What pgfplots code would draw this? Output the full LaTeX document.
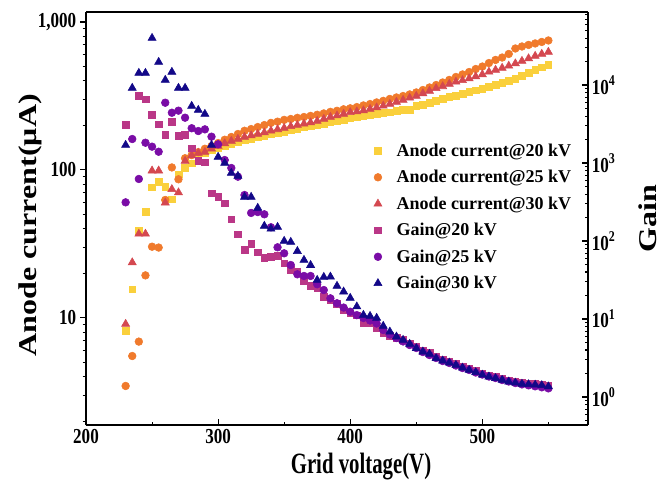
\documentclass[border=0pt]{standalone}
\usepackage{fontspec}
\setmainfont{Liberation Serif}
\usepackage{pgfplots}
\usepackage{pgfplotstable}
\pgfplotsset{compat=1.18}
\usetikzlibrary{calc}

\definecolor{cA20}{RGB}{250,208,60}
\definecolor{cA25}{RGB}{240,122,44}
\definecolor{cA30}{RGB}{212,72,80}
\definecolor{cG20}{RGB}{186,55,135}
\definecolor{cG25}{RGB}{122,12,166}
\definecolor{cG30}{RGB}{18,8,136}

% grid voltage, anode current (uA) and gain at 20/25/30 kV
\pgfplotstableread{
V   a20   a25   a30   g20    g25   g30
230 8.2   3.47  9.1   3070   313   1700
235 15.6  5.53  23.7  nan    2030  9160
240 38.7  6.92  37.0  7220   624   14250
245 52.0  19.4  37.0  6560   1820  14250
250 76.4  30.3  98.9  4120   1620  40000
255 83    29.9  98.9  3130   1395  19700
260 77.4  62.7  60.1  2290   5930  11600
265 63.5  104   74.1  3380   4410  14680
270 93.6  86.5  70.4  2220   4690  9160
275 103   120   115   2290   3810  9160
280 111   126   125   1540   2790  5380
285 122   132   130   1062   2570  4780
290 130   139   132   1020   2700  4250
295 137   145   139   409    2175  1700
300 141   152   145   370    1738  1195
305 145   160   151   304    1092  1000
310 150   167   157   190    863   745
315 155   175   162   122    667   681
320 160   184   167   76.7   389   367
325 163   189   171   91.6   229   367
330 167   195   175   71.6   235   265
335 171   201   179   61.1   220   156
340 175   208   184   63     150   143
345 178   212   188   64.3   83    151
350 182   218   192   51.8   69.5  100
355 186   221   197   42.5   49.2  97
360 189   225   201   40.4   37.4  74
365 194   228   205   30.7   35.6  57
370 198   232   209   26.7   35.6  49
375 201   236   214   24.8   27.9  31.6
380 206   241   221   19.3   23.5  34.5
385 211   247   228   17.5   18.4  34.8
390 214   251   233   15.6   15.9  26.5
395 219   257   239   13.0   14.0  22.4
400 224   261   245   11.8   12.4  18.6
405 228   266   248   11.2   11.2  14.4
410 232   273   252   8.98   10.3  11.25
415 235   279   258   8.8    9.57  10.9
420 239   286   264   7.6    8.76  10.3
425 243   293   271   6.56   7.23  8.13
430 246   302   279   6.11   6.33  6.87
435 250   309   288   5.76   5.70  5.93
440 254   316   297   5.38   5.15  5.38
445 256   324   307   4.9    4.64  4.78
450 271   334   316   4.4    4.25  4.21
455 275   347   329   3.95   3.77  3.81
460 284   361   342   3.7    3.45  3.56
465 293   375   356   3.3    3.16  3.13
470 302   390   367   3.05   2.89  2.92
475 311   406   381   2.87   2.73  2.75
480 318   425   394   2.68   2.53  2.57
485 326   442   403   2.47   2.35  2.37
490 337   459   415   2.31   2.22  2.22
495 345   481   428   2.15   2.06  2.07
500 353   500   442   2.0    1.94  1.92
505 364   528   460   1.89   1.83  1.82
510 375   554   474   1.81   1.75  1.74
515 387   575   489   1.72   1.65  1.65
520 399   608   505   1.64   1.58  1.57
525 415   662   524   1.58   1.51  1.52
530 435   683   545   1.53   1.45  1.47
535 456   700   567   1.5    1.41  1.45
540 474   716   589   1.48   1.37  1.43
545 493   733   608   1.45   1.33  1.41
550 512   750   627   1.40   1.29  1.36
}\data

\begin{document}
\begin{tikzpicture}
\begin{axis}[name=ax,
  scale only axis, width=376.5pt, height=309.75pt,
  xmin=200, xmax=580, ymode=log,
  ymin=1.89, ymax=1168,
  axis y line*=left,
  axis line style={line width=1.1pt},
  every tick/.append style={line width=0.8pt, black},
  major tick length=4.5pt, minor tick length=2.5pt,
  tick label style={font=\fontsize{16}{18}\selectfont\bfseries, xscale=0.8},
  label style={font=\fontsize{24}{26}\selectfont\bfseries},
  xtick={200,300,400,500}, xticklabels={200,300,400,500},
  minor xtick={250,350,450,550},
  xtick pos=bottom, xtick align=inside,
  ytick={10,100,1000}, yticklabels={10,100,{1,000}},
  minor ytick={2,3,4,5,6,7,8,9,20,30,40,50,60,70,80,90,200,300,400,500,600,700,800,900},
  ytick align=outside,
  xlabel={\scalebox{0.65}[0.92]{Grid voltage(V)}},
  xlabel style={at={(rel axis cs:0.5,0)}, anchor=center, yshift=-31.5pt, xshift=18pt},
  ylabel={\scalebox{1}[0.8]{Anode current(μA)}},
  ylabel style={at={(rel axis cs:0,0.5)}, anchor=center, yshift=42pt, xshift=-5pt},
]
\addplot[only marks, mark=square*, mark size=2.5pt, mark options={draw=cA20, fill=cA20}] table[x=V, y=a20] {\data};
\addplot[only marks, mark=*, mark size=2.9pt, mark options={draw=cA25, fill=cA25}] table[x=V, y=a25] {\data};
\addplot[only marks, mark=triangle*, mark size=3.5pt, mark options={draw=cA30, fill=cA30}] table[x=V, y=a30] {\data};
\end{axis}
\begin{axis}[
  scale only axis, width=376.5pt, height=309.75pt,
  xmin=200, xmax=580, ymode=log,
  ymin=0.437, ymax=86300,
  axis x line=none, axis y line*=right,
  axis line style={line width=1.1pt},
  every tick/.append style={line width=0.8pt, black},
  major tick length=4.5pt, minor tick length=2.5pt,
  tick label style={font=\fontsize{16}{18}\selectfont\bfseries, xscale=0.8},
  label style={font=\fontsize{24}{26}\selectfont\bfseries},
  ytick={1,10,100,1000,10000},
  yticklabels={10\textsuperscript{0},10\textsuperscript{1},10\textsuperscript{2},10\textsuperscript{3},10\textsuperscript{4}},
  minor ytick={0.5,0.6,0.7,0.8,0.9,2,3,4,5,6,7,8,9,20,30,40,50,60,70,80,90,200,300,400,500,600,700,800,900,2000,3000,4000,5000,6000,7000,8000,9000,20000,30000,40000,50000,60000,70000,80000},
  ytick align=inside,
  ylabel={\scalebox{1}[0.8]{Gain}},
  ylabel style={at={(rel axis cs:1,0.5)}, anchor=center, yshift=-45pt},
  legend cell align=left,
  legend style={at={(0.565,0.695)}, anchor=north west, draw=none, fill=none,
    font=\fontsize{13.5}{16}\selectfont\bfseries, row sep=5pt,
    /tikz/every odd column/.append style={column sep=9pt}},
]
\addlegendimage{only marks, mark=square*, mark size=2.5pt, mark options={draw=cA20, fill=cA20}}
\addlegendentry{Anode current@20 kV}
\addlegendimage{only marks, mark=*, mark size=2.9pt, mark options={draw=cA25, fill=cA25}}
\addlegendentry{Anode current@25 kV}
\addlegendimage{only marks, mark=triangle*, mark size=3.5pt, mark options={draw=cA30, fill=cA30}}
\addlegendentry{Anode current@30 kV}
\addplot[only marks, mark=square*, mark size=2.5pt, mark options={draw=cG20, fill=cG20}] table[x=V, y=g20] {\data};
\addlegendentry{Gain@20 kV}
\addplot[only marks, mark=*, mark size=2.9pt, mark options={draw=cG25, fill=cG25}] table[x=V, y=g25] {\data};
\addlegendentry{Gain@25 kV}
\addplot[only marks, mark=triangle*, mark size=3.5pt, mark options={draw=cG30, fill=cG30}] table[x=V, y=g30] {\data};
\addlegendentry{Gain@30 kV}
\end{axis}
\pgfresetboundingbox
\path[use as bounding box] ($(ax.south west)+(-64.5pt,-42.75pt)$) rectangle ($(ax.north east)+(63pt,9pt)$);
\end{tikzpicture}
\end{document}
